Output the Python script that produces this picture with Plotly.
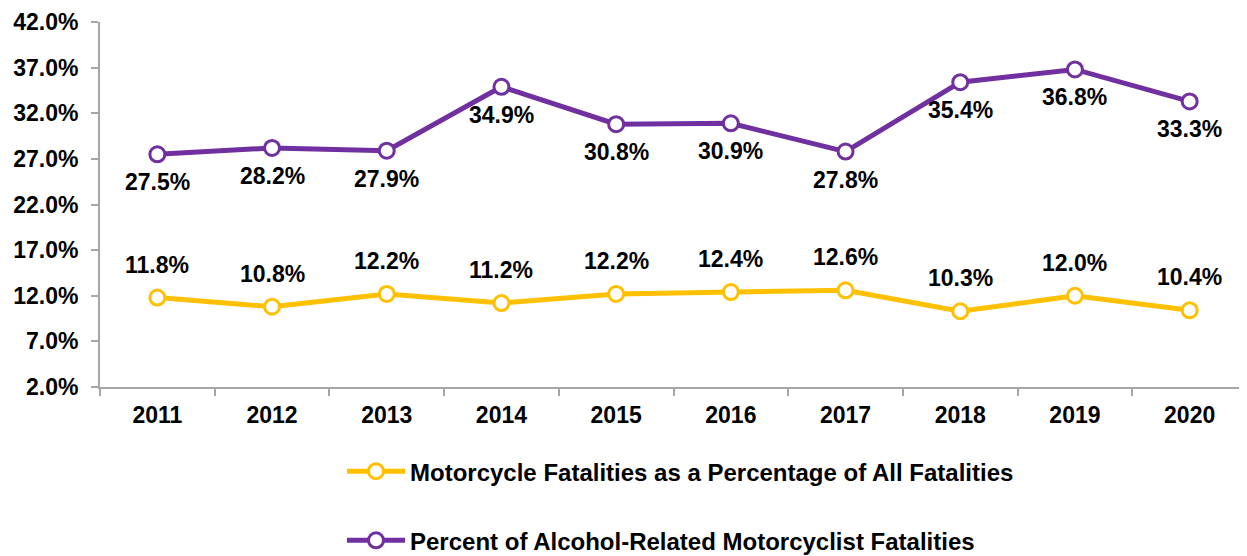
import plotly.graph_objects as go

years = ["2011", "2012", "2013", "2014", "2015", "2016", "2017", "2018", "2019", "2020"]
moto_pct = [11.8, 10.8, 12.2, 11.2, 12.2, 12.4, 12.6, 10.3, 12.0, 10.4]
alcohol_pct = [27.5, 28.2, 27.9, 34.9, 30.8, 30.9, 27.8, 35.4, 36.8, 33.3]
y_ticks = [2, 7, 12, 17, 22, 27, 32, 37, 42]

FONT = "Liberation Sans, Arial, sans-serif"
FS = 23
YELLOW = "#FFC000"
PURPLE = "#7030A0"
GRID = "#A6A6A6"

fig = go.Figure()
fig.add_trace(go.Scatter(
    x=years, y=moto_pct, mode="lines+markers",
    name="<b>Motorcycle Fatalities as a Percentage of All Fatalities</b>",
    legendgroup="a",
    line=dict(color=YELLOW, width=5),
    marker=dict(symbol="circle", size=15, color="white", line=dict(color=YELLOW, width=3)),
))
fig.add_trace(go.Scatter(
    x=years, y=alcohol_pct, mode="lines+markers",
    name="<b>Percent of Alcohol-Related Motorcyclist Fatalities</b>",
    legendgroup="b",
    line=dict(color=PURPLE, width=5),
    marker=dict(symbol="circle", size=15, color="white", line=dict(color=PURPLE, width=3)),
))

for i, v in enumerate(moto_pct):
    fig.add_annotation(x=i, y=v, xref="x", yref="y", text=f"<b>{v:.1f}%</b>",
                       showarrow=False, yshift=33,
                       font=dict(family=FONT, size=FS, color="black"))
for i, v in enumerate(alcohol_pct):
    fig.add_annotation(x=i, y=v, xref="x", yref="y", text=f"<b>{v:.1f}%</b>",
                       showarrow=False, yshift=-28,
                       font=dict(family=FONT, size=FS, color="black"))

fig.update_layout(
    width=1239, height=548,
    margin=dict(l=92, r=0, t=14, b=169, autoexpand=False),
    paper_bgcolor="white", plot_bgcolor="white",
    font=dict(family=FONT, size=FS, color="black"),
    legend=dict(x=0.211, xanchor="left", y=-0.17, yanchor="top",
                tracegroupgap=35, font=dict(size=24, family=FONT),
                itemwidth=58),
    showlegend=True,
)
fig.update_xaxes(
    type="category", range=[-0.5, 9.5],
    showline=True, linecolor=GRID, linewidth=2,
    ticks="outside", tickson="boundaries", ticklen=7, tickcolor=GRID, tickwidth=2,
    showgrid=False, tickfont=dict(family=FONT, size=FS),
    tickvals=years, ticktext=[f"<b>{y}</b>" for y in years],
    ticklabelstandoff=6,
)
fig.update_yaxes(
    range=[2, 42], tickvals=y_ticks, ticktext=[f"<b>{v:.1f}%</b>" for v in y_ticks],
    showline=True, linecolor=GRID, linewidth=2,
    ticks="outside", ticklen=7, tickcolor=GRID, tickwidth=2,
    showgrid=False, zeroline=False, tickfont=dict(family=FONT, size=FS),
    ticklabelstandoff=8,
)

fig.write_html("out.html")
